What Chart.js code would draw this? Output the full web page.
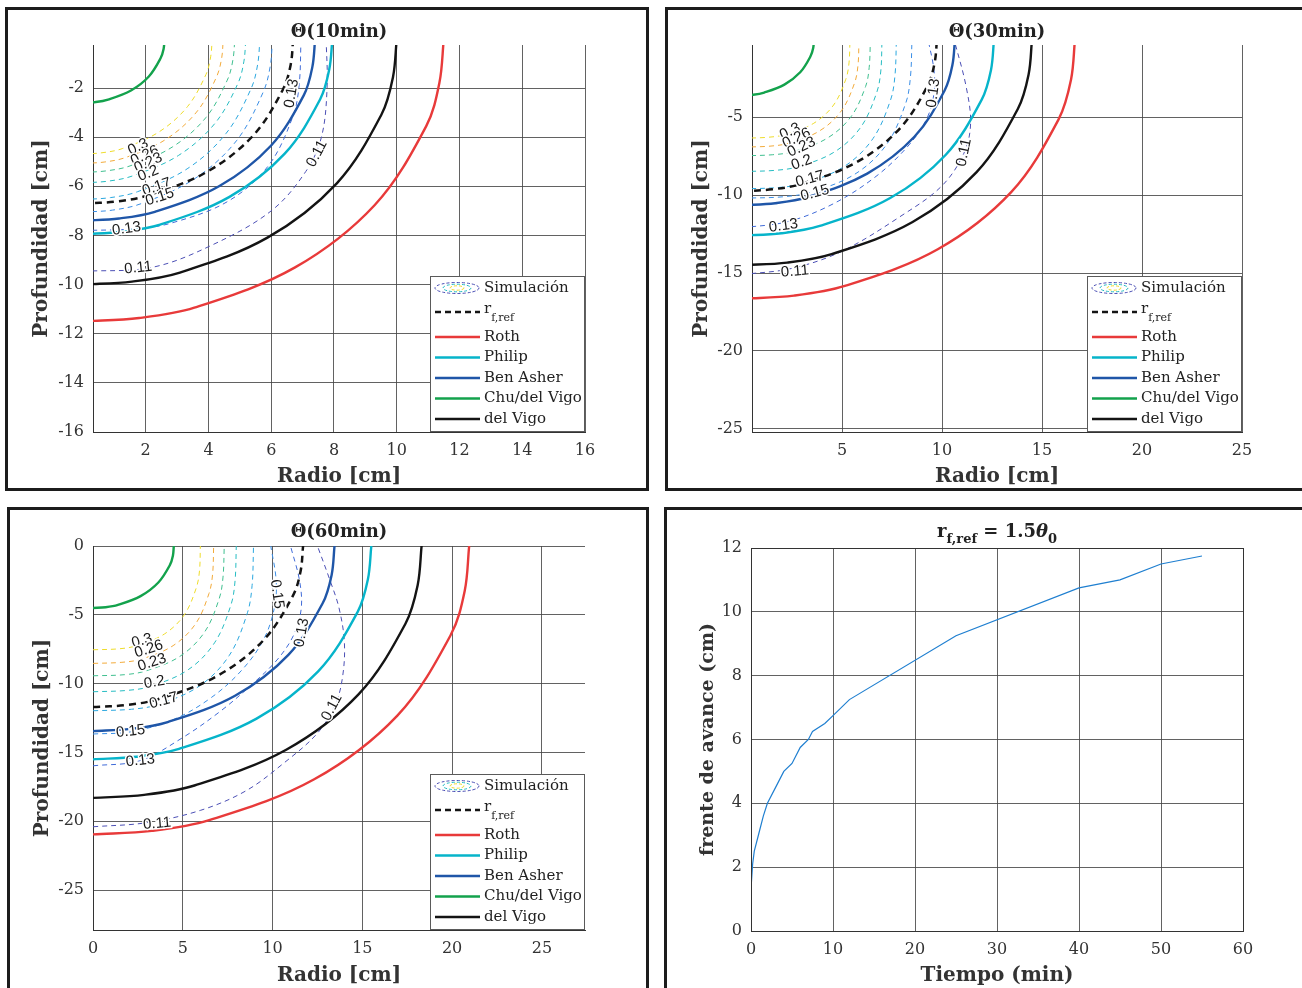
<!DOCTYPE html>
<html><head><meta charset="utf-8">
<script src="https://cdn.jsdelivr.net/npm/chart.js@4.4.1/dist/chart.umd.min.js"></script>
<style>
body{margin:0;background:#fff;width:1302px;height:988px;overflow:hidden;position:relative}
.panel{position:absolute;border:3px solid #1c1c1c;box-sizing:border-box}
canvas{position:absolute}
</style></head><body>
<div class="panel" style="left:5px;top:7px;width:644px;height:484px"></div>
<div class="panel" style="left:665px;top:7px;width:645px;height:484px"></div>
<div class="panel" style="left:7px;top:507px;width:642px;height:490px"></div>
<div class="panel" style="left:664px;top:507px;width:650px;height:490px"></div>
<canvas id="c1" width="636" height="476" style="left:9px;top:10px"></canvas>
<canvas id="c2" width="633" height="476" style="left:669px;top:10px"></canvas>
<canvas id="c3" width="636" height="477" style="left:9px;top:511px"></canvas>
<canvas id="c4" width="632" height="477" style="left:670px;top:511px"></canvas>
<script>
// ---------- DATA : Θ(10min) ----------
const t10_chu    = [[0,-2.6],[0.41,-2.57],[0.80,-2.47],[1.53,-2.10],[2.10,-1.53],[2.47,-0.80],[2.57,-0.41],[2.6,0]];
const t10_rf     = [[0,-6.7],[1.05,-6.62],[2.07,-6.37],[3.94,-5.42],[5.42,-3.94],[6.37,-2.07],[6.62,-1.05],[6.7,0]];
const t10_ben    = [[0,-7.4],[1.15,-7.31],[2.29,-7.04],[4.35,-5.99],[5.99,-4.35],[7.04,-2.29],[7.31,-1.15],[7.4,0]];
const t10_philip = [[0,-7.95],[1.24,-7.85],[2.46,-7.56],[4.67,-6.43],[6.43,-4.67],[7.56,-2.46],[7.85,-1.24],[7.95,0]];
const t10_vigo   = [[0,-10],[1.56,-9.88],[3.09,-9.51],[5.88,-8.09],[8.09,-5.88],[9.51,-3.09],[9.88,-1.56],[10,0]];
const t10_roth   = [[0,-11.5],[1.79,-11.36],[3.55,-10.94],[6.76,-9.30],[9.30,-6.76],[10.94,-3.55],[11.36,-1.79],[11.5,0]];
const t10_c30 = [[0,-4.69],[0.64,-4.63],[1.27,-4.46],[2.42,-3.79],[3.33,-2.76],[3.92,-1.45],[4.07,-0.73],[4.12,0]];
const t10_c26 = [[0,-5.07],[0.70,-5.01],[1.38,-4.82],[2.63,-4.10],[3.62,-2.98],[4.25,-1.57],[4.42,-0.79],[4.47,0]];
const t10_c23 = [[0,-5.44],[0.76,-5.37],[1.50,-5.17],[2.85,-4.40],[3.92,-3.20],[4.60,-1.68],[4.78,-0.85],[4.84,0]];
const t10_c20 = [[0,-5.86],[0.81,-5.79],[1.60,-5.57],[3.05,-4.74],[4.20,-3.45],[4.94,-1.81],[5.13,-0.91],[5.19,0]];
const t10_c17 = [[0,-6.54],[0.88,-6.46],[1.74,-6.22],[3.32,-5.29],[4.56,-3.85],[5.36,-2.02],[5.57,-1.02],[5.64,0]];
const t10_c15 = [[0,-7.05],[0.94,-6.97],[1.87,-6.70],[3.55,-5.70],[4.89,-4.15],[5.74,-2.18],[5.97,-1.10],[6.04,0]];
const t10_c13 = [[0,-7.8],[1.67,-7.73],[2.81,-7.50],[4.61,-6.62],[5.90,-5.18],[6.69,-3.16],[6.89,-1.87],[6.95,0]];
const t10_c11 = [[0,-9.46],[2.2,-9.3],[4.1,-8.4],[6.0,-7.0],[7.1,-5.4],[7.6,-4.0],[7.78,-2.0],[7.75,0]];
const t10_labels = [['0.3',1.76,-4.4,-25],['0.26',1.97,-4.75,-25],['0.23',2.08,-5.05,-25],['0.2',2.08,-5.48,-22],
  ['0.17',2.35,-6.03,-18],['0.15',2.45,-6.44,-18],['0.13',1.39,-7.73,-8],['0.11',1.76,-9.32,-6],
  ['0.13',6.65,-2.22,-80],['0.11',7.46,-4.67,-62]];

// ---------- DATA : Θ(30min) ----------
const t30_chu    = [[0,-3.6],[0.56,-3.56],[1.11,-3.42],[2.12,-2.91],[2.91,-2.12],[3.42,-1.11],[3.56,-0.56],[3.6,0]];
const t30_rf     = [[0,-9.75],[1.52,-9.63],[3.01,-9.27],[5.73,-7.89],[7.89,-5.73],[9.27,-3.01],[9.63,-1.52],[9.75,0]];
const t30_ben    = [[0,-10.65],[1.66,-10.52],[3.29,-10.13],[6.26,-8.62],[8.62,-6.26],[10.13,-3.29],[10.52,-1.66],[10.65,0]];
const t30_philip = [[0,-12.6],[1.97,-12.45],[3.89,-11.98],[7.41,-10.19],[10.19,-7.41],[11.98,-3.89],[12.45,-1.97],[12.6,0]];
const t30_vigo   = [[0,-14.5],[2.26,-14.33],[4.48,-13.79],[8.53,-11.73],[11.73,-8.53],[13.79,-4.48],[14.33,-2.26],[14.5,0]];
const t30_roth   = [[0,-16.65],[2.60,-16.45],[5.14,-15.83],[9.79,-13.47],[13.47,-9.79],[15.83,-5.14],[16.45,-2.60],[16.65,0]];
const t30_c30 = [[0,-6.35],[1.30,-6.29],[2.19,-6.11],[3.59,-5.39],[4.58,-4.22],[5.19,-2.57],[5.35,-1.52],[5.4,0]];
const t30_c26 = [[0,-6.92],[1.40,-6.86],[2.37,-6.66],[3.88,-5.88],[4.97,-4.59],[5.63,-2.80],[5.80,-1.66],[5.85,0]];
const t30_c23 = [[0,-7.48],[1.54,-7.41],[2.60,-7.20],[4.26,-6.35],[5.45,-4.97],[6.18,-3.03],[6.36,-1.80],[6.42,0]];
const t30_c20 = [[0,-8.49],[1.68,-8.41],[2.84,-8.17],[4.65,-7.21],[5.94,-5.64],[6.73,-3.44],[6.94,-2.04],[7.0,0]];
const t30_c17 = [[0,-9.6],[1.85,-9.51],[3.13,-9.24],[5.13,-8.15],[6.55,-6.37],[7.43,-3.89],[7.65,-2.30],[7.72,0]];
const t30_c15 = [[0,-10.2],[2.04,-10.11],[3.44,-9.81],[5.64,-8.66],[7.22,-6.77],[8.18,-4.13],[8.42,-2.45],[8.5,0]];
const t30_c13 = [[0,-12.1],[2.3,-11.7],[4.5,-10.6],[6.6,-8.9],[8.2,-7.0],[9.2,-5.2],[9.6,-3.5],[9.6,-2.0],[9.3,0]];
const t30_c11 = [[0,-15.1],[2.5,-14.7],[5.0,-13.6],[8.0,-11.3],[10.0,-9.4],[11.1,-7.3],[11.43,-5.4],[11.2,-3.0],[10.6,0]];
const t30_labels = [['0.3',2.4,-5.92,-25],['0.26',2.73,-6.35,-25],['0.23',2.98,-6.92,-25],['0.2',2.98,-7.91,-20],
  ['0.17',3.4,-8.97,-15],['0.15',3.65,-9.87,-15],['0.13',2.07,-11.97,-8],['0.11',2.65,-14.9,-5],
  ['0.13',9.57,-3.46,-82],['0.11',11.1,-7.27,-78]];

// ---------- DATA : Θ(60min) ----------
const t60_chu    = [[0,-4.5],[0.70,-4.45],[1.39,-4.28],[2.65,-3.64],[3.64,-2.65],[4.28,-1.39],[4.45,-0.70],[4.5,0]];
const t60_rf     = [[0,-11.7],[1.83,-11.56],[3.62,-11.13],[6.88,-9.47],[9.47,-6.88],[11.13,-3.62],[11.56,-1.83],[11.7,0]];
const t60_ben    = [[0,-13.45],[2.10,-13.29],[4.16,-12.79],[7.91,-10.88],[10.88,-7.91],[12.79,-4.16],[13.29,-2.10],[13.45,0]];
const t60_philip = [[0,-15.5],[2.42,-15.31],[4.79,-14.74],[9.11,-12.54],[12.54,-9.11],[14.74,-4.79],[15.31,-2.42],[15.5,0]];
const t60_vigo   = [[0,-18.3],[2.85,-18.08],[5.65,-17.40],[10.76,-14.80],[14.80,-10.76],[17.40,-5.65],[18.08,-2.85],[18.3,0]];
const t60_roth   = [[0,-20.95],[3.27,-20.70],[6.47,-19.92],[12.32,-16.95],[16.95,-12.32],[19.92,-6.47],[20.70,-3.27],[20.95,0]];
const t60_c30 = [[0,-7.54],[1.44,-7.47],[2.42,-7.25],[3.97,-6.40],[5.08,-5.01],[5.75,-3.05],[5.93,-1.81],[5.98,0]];
const t60_c26 = [[0,-8.53],[1.61,-8.45],[2.72,-8.21],[4.46,-7.24],[5.71,-5.66],[6.46,-3.45],[6.66,-2.05],[6.72,0]];
const t60_c23 = [[0,-9.43],[1.75,-9.35],[2.96,-9.07],[4.85,-8.01],[6.21,-6.26],[7.03,-3.82],[7.24,-2.26],[7.31,0]];
const t60_c20 = [[0,-10.59],[1.92,-10.49],[3.23,-10.19],[5.30,-8.99],[6.77,-7.03],[7.68,-4.29],[7.91,-2.54],[7.98,0]];
const t60_c17 = [[0,-11.97],[2.15,-11.86],[3.62,-11.52],[5.94,-10.16],[7.59,-7.95],[8.60,-4.85],[8.86,-2.87],[8.94,0]];
const t60_c15 = [[0,-13.66],[2.1,-13.5],[4.5,-12.6],[6.6,-11.0],[8.3,-9.0],[9.5,-6.8],[10.1,-4.5],[10.2,-2.5],[9.9,0]];
const t60_c13 = [[0,-15.97],[2.6,-15.6],[4.9,-14.0],[7.1,-12.0],[8.9,-10.0],[10.3,-8.2],[11.2,-6.4],[11.6,-4.5],[11.5,-2.5],[11.0,0]];
const t60_c11 = [[0,-20.4],[3.0,-20.1],[6.0,-19.2],[8.5,-17.8],[10.6,-15.8],[12.5,-13.6],[13.5,-11.5],[13.9,-9.5],[14.0,-7.0],[13.7,-4.5],[13.2,-2.5],[12.5,0]];
const t60_labels = [['0.3',2.73,-6.89,-15],['0.26',3.11,-7.49,-18],['0.23',3.29,-8.46,-18],['0.2',3.42,-9.91,-10],
  ['0.17',3.94,-11.24,-15],['0.15',2.09,-13.47,-6],['0.13',2.64,-15.59,-6],['0.11',3.57,-20.18,-5],
  ['0.15',10.24,-3.5,82],['0.13',11.63,-6.29,-80],['0.11',13.3,-11.73,-62]];

// ---------- DATA : r_f,ref over time ----------
const tiempo = [0, 0.02, 0.2, 0.4, 0.9, 1.5, 2, 3, 4, 5, 6, 7, 7.5, 9, 10, 12, 25, 40, 45, 50, 55];
const frente = [0, 1.4, 2.1, 2.5, 3.0, 3.6, 4.0, 4.5, 5.0, 5.25, 5.75, 6.0, 6.25, 6.5, 6.75, 7.25, 9.25, 10.75, 11.0, 11.5, 11.75];

// ---------- STYLE ----------
const FONT = 'DejaVu Serif';
const GRID = 'rgba(70,70,70,0.85)';
const COL = {roth:'#e83a3a', philip:'#06b4ca', ben:'#1f56a8', chu:'#13a24c', vigo:'#141414', rf:'#141414'};
const CCOL = {c11:'#4b4fb5', c13:'#3f6ad8', c15:'#3a8ee6', c17:'#2aa7df', c20:'#25bcc2', c23:'#3fbf8f', c26:'#f2aa3a', c30:'#eedc2a'};

function pts(a){ return a.map(p => ({x:p[0], y:p[1]})); }
function model(d, c, dash){ return {data:pts(d), borderColor:c, borderWidth: dash?2.5:2.4, borderDash: dash||[], pointRadius:0, tension:0.35, capBezierPoints:false, fill:false}; }
function contour(d, c){ return {data:pts(d), borderColor:c, borderWidth:1, borderDash:[5,4], pointRadius:0, tension:0.35, capBezierPoints:false, fill:false}; }

function datasets(S){
  return [
    model(S.rf, COL.rf, [7,5]), model(S.roth, COL.roth), model(S.philip, COL.philip), model(S.ben, COL.ben),
    model(S.chu, COL.chu), model(S.vigo, COL.vigo),
    contour(S.c11, CCOL.c11), contour(S.c13, CCOL.c13), contour(S.c15, CCOL.c15), contour(S.c17, CCOL.c17),
    contour(S.c20, CCOL.c20), contour(S.c23, CCOL.c23), contour(S.c26, CCOL.c26), contour(S.c30, CCOL.c30)
  ];
}

const legendItems = [
  {sim:true, text:'Simulación'},
  {text:'r', sub:'f,ref', color:COL.rf, dash:[6,4], w:2.4},
  {text:'Roth', color:COL.roth},
  {text:'Philip', color:COL.philip},
  {text:'Ben Asher', color:COL.ben},
  {text:'Chu/del Vigo', color:COL.chu},
  {text:'del Vigo', color:COL.vigo}
];
const legendRows = [12, 36, 61, 81.5, 102, 122.5, 143];

const decorPlugin = {
  id:'decor',
  afterDatasetsDraw(chart, args, o){
    const ctx = chart.ctx, a = chart.chartArea;
    const xs = chart.scales.x, ys = chart.scales.y;
    ctx.save();
    if (o.labels){
      ctx.font = '15px "Liberation Sans", Arial, sans-serif';
      ctx.textAlign = 'center'; ctx.textBaseline = 'middle';
      ctx.beginPath(); ctx.rect(a.left, a.top, a.right-a.left, a.bottom-a.top); ctx.clip();
      for (const L of o.labels){
        const px = xs.getPixelForValue(L[1]), py = ys.getPixelForValue(L[2]);
        ctx.save(); ctx.translate(px, py); ctx.rotate(L[3]*Math.PI/180);
        ctx.lineWidth = 3; ctx.strokeStyle = '#fff'; ctx.strokeText(L[0],0,0);
        ctx.fillStyle = '#1a1a1a'; ctx.fillText(L[0],0,0);
        ctx.restore();
      }
    }
    ctx.restore();
    ctx.save();
    if (o.legend){
      const w = 155, h = 156, x0 = a.right - w, y0 = a.bottom - h;
      ctx.fillStyle = '#fff'; ctx.fillRect(x0, y0, w, h);
      ctx.strokeStyle = '#5a5a5a'; ctx.lineWidth = 1; ctx.strokeRect(x0+0.5, y0+0.5, w-1, h-1);
      ctx.textBaseline = 'middle'; ctx.textAlign = 'left';
      legendItems.forEach((it, i) => {
        const y = y0 + legendRows[i];
        if (it.sim){
          const cx = x0 + 27;
          [[22,5.5,CCOL.c11],[14,3.8,CCOL.c20],[7,2.2,CCOL.c30]].forEach(e => {
            ctx.beginPath(); ctx.setLineDash([3,2]); ctx.lineWidth = 1; ctx.strokeStyle = e[2];
            ctx.ellipse(cx, y, e[0], e[1], 0, 0, Math.PI*2); ctx.stroke();
          });
          ctx.setLineDash([]);
        } else {
          ctx.beginPath(); ctx.setLineDash(it.dash||[]); ctx.lineWidth = it.w||2.4; ctx.strokeStyle = it.color;
          ctx.moveTo(x0+5, y); ctx.lineTo(x0+50, y); ctx.stroke(); ctx.setLineDash([]);
        }
        ctx.fillStyle = '#222';
        ctx.font = '15px "' + FONT + '"';
        if (it.sub){
          ctx.fillText(it.text, x0+54, y-3);
          const tw = ctx.measureText(it.text).width;
          ctx.font = '11px "' + FONT + '"';
          ctx.fillText(it.sub, x0+54+tw, y+6);
        } else {
          ctx.fillText(it.text, x0+54, y);
        }
      });
    }
    if (o.frame){
      ctx.strokeStyle = '#333'; ctx.lineWidth = 1;
      ctx.strokeRect(Math.round(a.left)+0.5, Math.round(a.top)+0.5, Math.round(a.right-a.left), Math.round(a.bottom-a.top));
    }
    if (o.richTitle){
      const parts = o.richTitle, cx = (a.left + a.right)/2, by = o.titleBase;
      let total = 0;
      parts.forEach(p => { ctx.font = p.f; p.w = ctx.measureText(p.t).width; total += p.w; });
      let x = cx - total/2;
      ctx.textAlign = 'left'; ctx.textBaseline = 'alphabetic'; ctx.fillStyle = '#222';
      parts.forEach(p => { ctx.font = p.f; ctx.fillText(p.t, x, by + (p.dy||0)); x += p.w; });
    }
    ctx.restore();
  }
};

function scales(o){
  return {
    x: {type:'linear', position:'bottom', min:o.xmin, max:o.xmax,
        ticks:{stepSize:o.xstep, includeBounds:false, padding:9, color:'#333', maxRotation:0, autoSkip:false, font:{family:FONT, size:16}},
        grid:{color:GRID, lineWidth:1, drawTicks:false},
        border:{display:true, color:'#333', width:1},
        title:{display:true, text:o.xtitle, color:'#333', font:{family:FONT, size:20, weight:'bold', lineHeight:1}, padding:{top:0, bottom:o.xtpad}},
        afterFit(s){ s.height = o.xh; }},
    y: {type:'linear', position:'left', min:o.ymin, max:o.ymax,
        ticks:{stepSize:o.ystep, includeBounds:false, padding:9, color:'#333', autoSkip:false, font:{family:FONT, size:16}},
        grid:{color:GRID, lineWidth:1, drawTicks:false},
        border:{display:true, color:'#333', width:1},
        title:{display:true, text:o.ytitle, color:'#333', font:{family:FONT, size:o.ytsize||20, weight:'bold', lineHeight:1}, padding:{top:o.ytpad, bottom:0}},
        afterFit(s){ s.width = o.yw; }}
  };
}

function thetaChart(id, S, title, sc, titlePad, labels){
  return new Chart(document.getElementById(id), {
    type:'line',
    data:{datasets: datasets(S)},
    options:{
      responsive:false, animation:false, devicePixelRatio:1,
      elements:{line:{capBezierPoints:false}},
      layout:{padding:{left:0, right:sc.rpad, top:0, bottom:0}},
      plugins:{
        legend:{display:false}, tooltip:{enabled:false},
        title:{display:true, text:title, fullSize:false, color:'#222', font:{family:FONT, size:18, weight:'bold'}, padding:titlePad},
        decor:{labels:labels, legend:true}
      },
      scales: scales(sc)
    },
    plugins:[decorPlugin]
  });
}

thetaChart('c1', {rf:t10_rf, roth:t10_roth, philip:t10_philip, ben:t10_ben, chu:t10_chu, vigo:t10_vigo,
  c11:t10_c11, c13:t10_c13, c15:t10_c15, c17:t10_c17, c20:t10_c20, c23:t10_c23, c26:t10_c26, c30:t10_c30},
  'Θ(10min)', {xmin:0.32, xmax:16, xstep:2, ymin:-16, ymax:-0.25, ystep:2, xtitle:'Radio [cm]', ytitle:'Profundidad [cm]',
  xh:54, yw:84, xtpad:-1, ytpad:23, rpad:60}, {top:11.2, bottom:2.2}, t10_labels);

thetaChart('c2', {rf:t30_rf, roth:t30_roth, philip:t30_philip, ben:t30_ben, chu:t30_chu, vigo:t30_vigo,
  c11:t30_c11, c13:t30_c13, c15:t30_c15, c17:t30_c17, c20:t30_c20, c23:t30_c23, c26:t30_c26, c30:t30_c30},
  'Θ(30min)', {xmin:0.5, xmax:25, xstep:5, ymin:-25.2, ymax:-0.37, ystep:5, xtitle:'Radio [cm]', ytitle:'Profundidad [cm]',
  xh:54, yw:83, xtpad:-1, ytpad:23, rpad:60}, {top:11.2, bottom:2.2}, t30_labels);

thetaChart('c3', {rf:t60_rf, roth:t60_roth, philip:t60_philip, ben:t60_ben, chu:t60_chu, vigo:t60_vigo,
  c11:t60_c11, c13:t60_c13, c15:t60_c15, c17:t60_c17, c20:t60_c20, c23:t60_c23, c26:t60_c26, c30:t60_c30},
  'Θ(60min)', {xmin:0, xmax:27.4, xstep:5, ymin:-27.9, ymax:0, ystep:5, xtitle:'Radio [cm]', ytitle:'Profundidad [cm]',
  xh:58, yw:84, xtpad:2, ytpad:24, rpad:60}, {top:10.2, bottom:3.2}, t60_labels);

new Chart(document.getElementById('c4'), {
  type:'scatter',
  data:{datasets:[{data: tiempo.map((t,i) => ({x:t, y:frente[i]})), borderColor:'#1f7fd0', borderWidth:1.2, showLine:true, pointRadius:0, tension:0, fill:false}]},
  options:{
    responsive:false, animation:false, devicePixelRatio:1,
    layout:{padding:{left:0, right:59, top:37, bottom:0}},
    plugins:{
      legend:{display:false}, tooltip:{enabled:false},
      decor:{frame:true, titleBase:26, richTitle:[
        {t:'r', f:'bold 18px "'+FONT+'"'},
        {t:'f,ref', f:'bold 13px "'+FONT+'"', dy:6},
        {t:' = 1.5', f:'bold 18px "'+FONT+'"'},
        {t:'θ', f:'italic bold 18px "'+FONT+'"'},
        {t:'0', f:'bold 13px "'+FONT+'"', dy:6}
      ]}
    },
    scales: scales({xmin:0, xmax:60, xstep:10, ymin:0, ymax:12, ystep:2, xtitle:'Tiempo (min)', ytitle:'frente de avance (cm)',
      xh:57, yw:81, xtpad:2, ytpad:28.5, ytsize:19})
  },
  plugins:[decorPlugin]
});
</script>
</body></html>
